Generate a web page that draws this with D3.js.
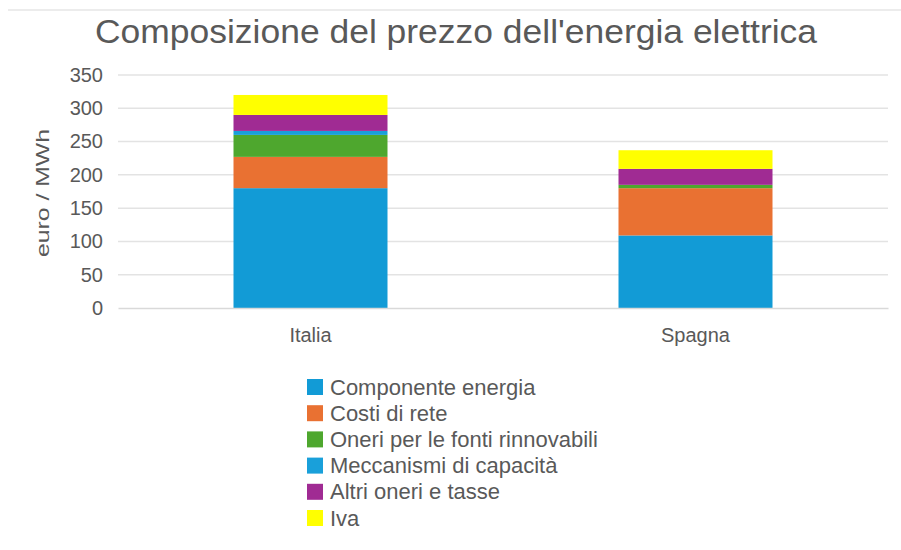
<!DOCTYPE html>
<html><head><meta charset="utf-8">
<script src="https://cdn.jsdelivr.net/npm/d3@7"></script>
<style>html,body{margin:0;padding:0;background:#fff;}</style>
</head><body>
<svg id="c" width="901" height="550"></svg>
<script>
const categories = ["Italia", "Spagna"];
const seriesNames = ["Componente energia", "Costi di rete", "Oneri per le fonti rinnovabili", "Meccanismi di capacità", "Altri oneri e tasse", "Iva"];
const componenteEnergia = [180, 109];
const costiDiRete = [47, 71];
const oneriRinnovabili = [33, 5];
const meccanismiCapacita = [6, 0];
const altriOneri = [24, 24];
const iva = [30, 28];
const yTicks = [0, 50, 100, 150, 200, 250, 300, 350];
const colors = ["#129BD6", "#E97132", "#4EA72E", "#19A0DA", "#A02B93", "#FFFF00"];

(function () {
const seriesValues = [componenteEnergia, costiDiRete, oneriRinnovabili, meccanismiCapacita, altriOneri, iva];
const rows = categories.map((c, i) => {
  const r = {cat: c};
  seriesNames.forEach((s, j) => r[s] = seriesValues[j][i]);
  return r;
});
const stacked = d3.stack().keys(seriesNames)(rows);

const svg = d3.select("#c");
const mLeft = 118, mRight = 888, mTop = 75, mBottom = 308;
const x = d3.scaleBand().domain(categories).range([mLeft, mRight]).padding(0);
const y = d3.scaleLinear().domain([0, 350]).range([mBottom, mTop]);
const color = d3.scaleOrdinal().domain(seriesNames).range(colors);
const FF = "Liberation Sans, Arial, sans-serif";

svg.append("line").attr("x1", 8).attr("x2", 901).attr("y1", 10).attr("y2", 10)
  .attr("stroke", "#e6e6e6").attr("stroke-width", 1.5);

svg.append("text").attr("x", 95).attr("y", 43)
  .attr("font-family", FF).attr("font-size", 33)
  .attr("textLength", 722).attr("lengthAdjust", "spacingAndGlyphs")
  .attr("fill", "#595959").text("Composizione del prezzo dell'energia elettrica");

svg.append("g").selectAll("line").data(yTicks.filter(d => d > 0)).join("line")
  .attr("x1", mLeft).attr("x2", mRight)
  .attr("y1", d => y(d)).attr("y2", d => y(d))
  .attr("stroke", "#e3e3e3").attr("stroke-width", 1.5);

const yAxis = d3.axisLeft(y).tickValues(yTicks).tickSize(0).tickPadding(15);
const ya = svg.append("g").attr("transform", `translate(${mLeft},0)`).call(yAxis);
ya.select(".domain").remove();
ya.selectAll("text").attr("font-family", FF).attr("font-size", 20).attr("fill", "#595959");

svg.append("text").attr("transform", `translate(49,${192}) rotate(-90)`)
  .attr("x", -65).attr("font-family", FF)
  .attr("font-size", 19).attr("textLength", 128).attr("lengthAdjust", "spacingAndGlyphs")
  .attr("fill", "#595959").text("euro / MWh");

const barW = x.bandwidth() * 0.4;
svg.append("g").selectAll("g").data(stacked).join("g")
  .attr("fill", d => color(d.key))
  .selectAll("rect").data(d => d).join("rect")
  .attr("x", d => x(d.data.cat) + (x.bandwidth() - barW) / 2)
  .attr("width", barW)
  .attr("y", d => y(d[1]))
  .attr("height", d => y(d[0]) - y(d[1]));

const xAxis = d3.axisBottom(x).tickSize(0).tickPadding(20);
const xa = svg.append("g").attr("transform", `translate(0,${mBottom})`).call(xAxis);
xa.select(".domain").attr("stroke", "#d9d9d9").attr("stroke-width", 1.5);
xa.selectAll("text").attr("font-family", FF).attr("font-size", 20).attr("fill", "#595959");

const lg = svg.append("g").attr("transform", "translate(307,379)");
const li = lg.selectAll("g").data(seriesNames).join("g")
  .attr("transform", (d, i) => `translate(0,${i * 26.2})`);
li.append("rect").attr("width", 16).attr("height", 16).attr("fill", d => color(d));
li.append("text").attr("x", 23).attr("y", 15.5)
  .attr("font-family", FF).attr("font-size", 22)
  .attr("fill", "#595959").text(d => d);
})();
</script>
</body></html>
